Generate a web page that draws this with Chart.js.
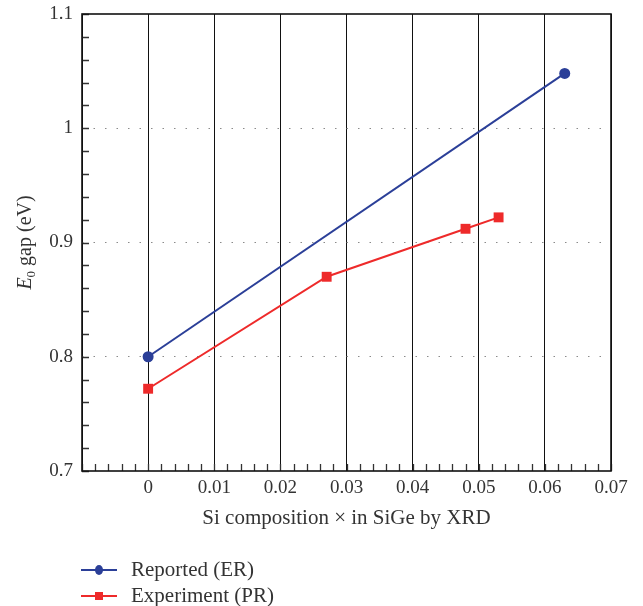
<!DOCTYPE html>
<html>
<head>
<meta charset="utf-8">
<script src="https://cdn.jsdelivr.net/npm/chart.js@4.4.1/dist/chart.umd.min.js"></script>
<style>
  html, body { margin: 0; padding: 0; background: #fff; }
</style>
</head>
<body>
<canvas id="gap-chart" width="643" height="606"></canvas>
<script>
// values
var seriesNames = ['Reported (ER)', 'Experiment (PR)'];
var reportedX = [0, 0.063];
var reportedY = [0.800, 1.048];
var experimentX = [0, 0.027, 0.048, 0.053];
var experimentY = [0.772, 0.870, 0.912, 0.922];
var xTickValues = [-0.01, 0, 0.01, 0.02, 0.03, 0.04, 0.05, 0.06, 0.07];
var xTickLabels = ['', '0', '0.01', '0.02', '0.03', '0.04', '0.05', '0.06', '0.07'];
var yTickValues = [0.7, 0.8, 0.9, 1.0, 1.1];
var yTickLabels = ['0.7', '0.8', '0.9', '1', '1.1'];
var xTitle = 'Si composition \u00d7 in SiGe by XRD';

var FONT = "'Liberation Serif', 'DejaVu Serif', serif";
var TEXT = '#333';

function toPoints(xs, ys) {
  var pts = [];
  for (var i = 0; i < xs.length; i++) pts.push({x: xs[i], y: ys[i]});
  return pts;
}

function setTicks(values) {
  return function(scale) {
    scale.ticks = values.map(function(v) { return {value: v}; });
  };
}

function labelFor(values, labels) {
  return function(value) {
    for (var i = 0; i < values.length; i++) {
      if (Math.abs(values[i] - value) < 1e-9) return labels[i];
    }
    return '';
  };
}

// frame + inward minor ticks
var framePlugin = {
  id: 'frame',
  beforeDatasetsDraw: function(chart) {
    var ctx = chart.ctx, a = chart.chartArea;
    var xs = chart.scales.x, ys = chart.scales.y;
    ctx.save();
    ctx.strokeStyle = '#333';
    ctx.lineWidth = 1.3;
    ctx.beginPath();
    for (var i = -5; i <= 35; i++) {
      var px = Math.round(xs.getPixelForValue(i * 0.002)) + 0.5;
      ctx.moveTo(px, a.bottom);
      ctx.lineTo(px, a.bottom - 7);
    }
    for (var j = 35; j <= 55; j++) {
      var py = Math.round(ys.getPixelForValue(j * 0.02)) + 0.5;
      ctx.moveTo(a.left, py);
      ctx.lineTo(a.left + 7, py);
    }
    ctx.stroke();
    ctx.strokeStyle = '#111';
    ctx.lineWidth = 1.6;
    ctx.strokeRect(a.left, a.top, a.right - a.left, a.bottom - a.top);
    ctx.restore();
  }
};

// y title with subscript and vertical legend
var textPlugin = {
  id: 'texts',
  afterDraw: function(chart) {
    var ctx = chart.ctx, a = chart.chartArea;
    ctx.save();
    ctx.fillStyle = TEXT;
    ctx.textBaseline = 'alphabetic';
    var big = '20px ' + FONT, ital = 'italic 20px ' + FONT, small = '13px ' + FONT;
    ctx.font = ital; var wE = ctx.measureText('E').width;
    ctx.font = small; var w0 = ctx.measureText('0').width;
    ctx.font = big; var rest = ' gap (eV)'; var wR = ctx.measureText(rest).width;
    var total = wE + w0 + wR;
    ctx.translate(31, (a.top + a.bottom) / 2);
    ctx.rotate(-Math.PI / 2);
    var x0 = -total / 2;
    ctx.font = ital; ctx.fillText('E', x0, 0);
    ctx.font = small; ctx.fillText('0', x0 + wE, 4);
    ctx.font = big; ctx.fillText(rest, x0 + wE + w0, 0);
    ctx.restore();

    // legend
    ctx.save();
    chart.data.datasets.forEach(function(ds, i) {
      var y = 570 + i * 26;
      ctx.strokeStyle = ds.borderColor;
      ctx.lineWidth = 1.8;
      ctx.beginPath();
      ctx.moveTo(81, y);
      ctx.lineTo(117, y);
      ctx.stroke();
      ctx.fillStyle = ds.borderColor;
      if (ds.pointStyle === 'rect') {
        ctx.fillRect(95, y - 4, 8, 8);
      } else {
        ctx.beginPath();
        ctx.ellipse(99, y, 4, 5, 0, 0, Math.PI * 2);
        ctx.fill();
      }
      ctx.fillStyle = TEXT;
      ctx.font = '21px ' + FONT;
      ctx.textBaseline = 'middle';
      ctx.fillText(ds.label, 131, y);
    });
    ctx.restore();
  }
};

var ctx = document.getElementById('gap-chart').getContext('2d');
var chart = new Chart(ctx, {
  type: 'scatter',
  data: {
    datasets: [
      {
        label: seriesNames[0],
        data: toPoints(reportedX, reportedY),
        showLine: true,
        borderColor: '#2b3f98',
        backgroundColor: '#2b3f98',
        borderWidth: 2,
        pointStyle: 'circle',
        pointRadius: 5.5,
        pointBorderWidth: 0
      },
      {
        label: seriesNames[1],
        data: toPoints(experimentX, experimentY),
        showLine: true,
        borderColor: '#ee2a2a',
        backgroundColor: '#ee2a2a',
        borderWidth: 2,
        pointStyle: 'rect',
        pointRadius: 7,
        pointBorderWidth: 0
      }
    ]
  },
  options: {
    responsive: false,
    animation: false,
    layout: { padding: { left: 0, top: 14, right: 32, bottom: 75 } },
    plugins: {
      legend: { display: false },
      tooltip: { enabled: false }
    },
    scales: {
      x: {
        type: 'linear',
        min: -0.01,
        max: 0.07,
        afterBuildTicks: setTicks(xTickValues),
        afterFit: function(s) { s.height = 60; s.paddingRight = 0; s.paddingLeft = 0; },
        border: { display: false },
        grid: { color: '#111', lineWidth: 1, drawTicks: false },
        ticks: {
          padding: 6,
          color: TEXT,
          font: { family: FONT, size: 19 },
          maxRotation: 0,
          autoSkip: false,
          callback: labelFor(xTickValues, xTickLabels)
        },
        title: {
          display: true,
          text: xTitle,
          color: TEXT,
          font: { family: FONT, size: 21 },
          padding: { top: 0, bottom: 0 }
        }
      },
      y: {
        type: 'linear',
        min: 0.7,
        max: 1.1,
        afterBuildTicks: setTicks(yTickValues),
        afterFit: function(s) { s.width = 82; s.paddingTop = 0; s.paddingBottom = 0; },
        border: { display: false, dash: [1.5, 10] },
        grid: {
          drawTicks: false,
          lineWidth: 1,
          color: function(c) {
            var v = c.tick ? c.tick.value : 0;
            return (v > 0.75 && v < 1.05) ? '#8a8a8a' : 'rgba(0,0,0,0)';
          }
        },
        ticks: {
          padding: 9,
          color: TEXT,
          font: { family: FONT, size: 19 },
          autoSkip: false,
          callback: labelFor(yTickValues, yTickLabels)
        }
      }
    }
  },
  plugins: [framePlugin, textPlugin]
});
</script>
</body>
</html>
